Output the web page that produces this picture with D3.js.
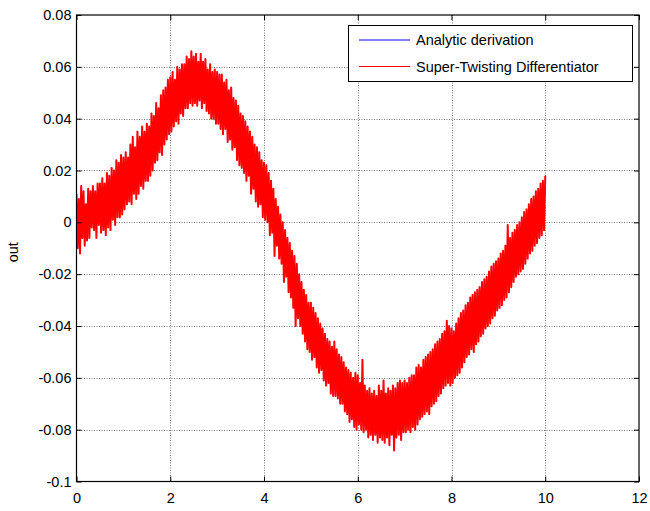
<!DOCTYPE html>
<html><head><meta charset="utf-8">
<script src="https://cdn.jsdelivr.net/npm/d3@7"></script>
<style>
html,body{margin:0;padding:0;background:#fff;}
svg{display:block;font-family:"Liberation Sans",Arial,sans-serif;}
</style></head>
<body>
<svg id="chart" width="650" height="511"></svg>
<script>
// ---- data ----
const xTicks = [0, 2, 4, 6, 8, 10, 12];
const yTicks = [-0.1, -0.08, -0.06, -0.04, -0.02, 0, 0.02, 0.04, 0.06, 0.08];
const yTickLabels = ["-0.1", "-0.08", "-0.06", "-0.04", "-0.02", "0", "0.02", "0.04", "0.06", "0.08"];
const seriesNames = ["Analytic derivation", "Super-Twisting Differentiator"];

// Analytic derivation (read at t = 0, 0.5, ..., 10)
const analyticT = [0,0.5,1,1.5,2,2.5,3,3.5,4,4.5,5,5.5,6,6.5,7,7.5,8,8.5,9,9.5,10];
const analyticV = [0.000,0.005,0.016,0.027,0.046,0.055,0.048,0.031,0.012,-0.017,-0.042,-0.057,-0.069,-0.074,-0.072,-0.063,-0.052,-0.038,-0.025,-0.009,0.006];

// Super-Twisting Differentiator output, sampled every 0.025 s from t = 0 to 10
const stdStep = 0.025;
const stdV = [
 0.011,-0.010,0.009,-0.012,0.014,-0.006,0.012,-0.009,0.007,-0.007,0.013,-0.006,0.012,-0.002,0.014,-0.003,0.012,-0.006,0.015,-0.001,
 0.015,-0.004,0.017,-0.003,0.015,-0.005,0.019,-0.002,0.018,-0.003,0.021,0.001,0.020,-0.001,0.024,0.002,0.023,0.002,0.026,0.003,
 0.025,0.005,0.027,0.007,0.025,0.008,0.030,0.007,0.033,0.011,0.029,0.009,0.035,0.011,0.033,0.014,0.037,0.013,0.035,0.016,
 0.038,0.016,0.037,0.018,0.042,0.020,0.041,0.023,0.046,0.024,0.044,0.027,0.049,0.026,0.051,0.030,0.052,0.032,0.055,0.034,
 0.056,0.035,0.058,0.037,0.055,0.039,0.060,0.038,0.059,0.042,0.061,0.041,0.061,0.044,0.064,0.044,0.063,0.046,0.066,0.045,
 0.064,0.046,0.065,0.045,0.062,0.047,0.065,0.044,0.062,0.046,0.063,0.043,0.059,0.042,0.061,0.040,0.058,0.040,0.059,0.038,
 0.058,0.038,0.057,0.036,0.057,0.034,0.054,0.036,0.055,0.031,0.051,0.032,0.052,0.028,0.048,0.029,0.047,0.024,0.045,0.022,
 0.042,0.021,0.041,0.019,0.039,0.016,0.037,0.018,0.035,0.011,0.033,0.013,0.030,0.008,0.029,0.006,0.027,0.007,0.024,0.002,
 0.023,0.001,0.022,0.000,0.019,-0.005,0.016,-0.004,0.013,-0.013,0.009,-0.009,0.006,-0.014,0.003,-0.016,0.000,-0.023,-0.003,-0.021,
 -0.006,-0.027,-0.008,-0.029,-0.011,-0.033,-0.013,-0.040,-0.016,-0.037,-0.020,-0.040,-0.023,-0.043,-0.026,-0.046,-0.028,-0.049,-0.031,-0.050,
 -0.031,-0.053,-0.033,-0.052,-0.035,-0.056,-0.037,-0.058,-0.039,-0.057,-0.041,-0.061,-0.043,-0.063,-0.045,-0.062,-0.046,-0.066,-0.048,-0.067,
 -0.046,-0.067,-0.049,-0.068,-0.051,-0.070,-0.052,-0.070,-0.054,-0.073,-0.056,-0.074,-0.057,-0.077,-0.058,-0.076,-0.060,-0.079,-0.058,-0.080,
 -0.059,-0.078,-0.062,-0.080,-0.053,-0.081,-0.063,-0.080,-0.065,-0.083,-0.064,-0.082,-0.066,-0.084,-0.065,-0.082,-0.067,-0.085,-0.063,-0.083,
 -0.065,-0.084,-0.061,-0.085,-0.066,-0.083,-0.064,-0.086,-0.065,-0.082,-0.063,-0.088,-0.064,-0.083,-0.062,-0.082,-0.061,-0.084,-0.062,-0.081,
 -0.061,-0.081,-0.062,-0.080,-0.060,-0.081,-0.059,-0.079,-0.059,-0.080,-0.056,-0.078,-0.055,-0.076,-0.056,-0.075,-0.053,-0.074,-0.052,-0.073,
 -0.051,-0.074,-0.050,-0.071,-0.049,-0.070,-0.047,-0.069,-0.046,-0.067,-0.045,-0.066,-0.043,-0.064,-0.042,-0.063,-0.038,-0.062,-0.040,-0.063,
 -0.041,-0.062,-0.042,-0.060,-0.039,-0.059,-0.037,-0.058,-0.035,-0.056,-0.034,-0.054,-0.032,-0.052,-0.031,-0.051,-0.029,-0.049,-0.028,-0.050,
 -0.027,-0.047,-0.026,-0.046,-0.025,-0.044,-0.023,-0.043,-0.022,-0.041,-0.021,-0.040,-0.019,-0.039,-0.017,-0.037,-0.016,-0.036,-0.015,-0.034,
 -0.014,-0.033,-0.012,-0.032,-0.011,-0.030,-0.009,-0.029,-0.001,-0.027,-0.006,-0.025,-0.004,-0.023,-0.003,-0.021,-0.001,-0.020,0.000,-0.019,
 0.002,-0.018,0.004,-0.016,0.005,-0.014,0.007,-0.012,0.009,-0.011,0.010,-0.009,0.012,-0.008,0.013,-0.006,0.015,-0.005,0.016,-0.003,
 0.018
];

// ---- layout ----
const svg = d3.select("#chart");
const m = {left: 76.5, top: 15, right: 639, bottom: 481.5};
const x = d3.scaleLinear().domain([0, 12]).range([m.left, m.right]);
const y = d3.scaleLinear().domain([-0.1, 0.08]).range([m.bottom, m.top]);
const W = m.right - m.left, H = m.bottom - m.top;

svg.append("rect").attr("width", 650).attr("height", 511).attr("fill", "#fff");
svg.append("rect").attr("x", m.left).attr("y", m.top).attr("width", W).attr("height", H).attr("fill", "#fff");

// grid
const grid = svg.append("g").attr("stroke", "#7a7a7a").attr("stroke-width", 1).attr("stroke-dasharray", "1,1.5");
grid.selectAll("line.gx").data(xTicks.slice(1, -1)).join("line")
  .attr("x1", d => Math.round(x(d)) + 0.5).attr("x2", d => Math.round(x(d)) + 0.5)
  .attr("y1", m.top).attr("y2", m.bottom);
grid.selectAll("line.gy").data(yTicks.slice(1, -1)).join("line")
  .attr("y1", d => Math.round(y(d)) + 0.5).attr("y2", d => Math.round(y(d)) + 0.5)
  .attr("x1", m.left).attr("x2", m.right);

// lines
const clip = svg.append("clipPath").attr("id", "clip").append("rect")
  .attr("x", m.left).attr("y", m.top).attr("width", W).attr("height", H);
const plot = svg.append("g").attr("clip-path", "url(#clip)");

const analytic = analyticT.map((t, i) => [t, analyticV[i]]);
const std = stdV.map((v, i) => [i * stdStep, v]);
const line = d3.line().x(d => x(d[0])).y(d => y(d[1]));

plot.append("path").datum(analytic).attr("d", line)
  .attr("fill", "none").attr("stroke", "#0000ff").attr("stroke-width", 1);
plot.append("path").datum(std).attr("d", line)
  .attr("fill", "none").attr("stroke", "#ff0000").attr("stroke-width", 2)
  .attr("stroke-linejoin", "round");

// axes (ticks inward on all sides)
const tickLen = 5;
const axB = d3.axisBottom(x).tickValues(xTicks).tickSize(-tickLen).tickPadding(11).tickFormat(d3.format("d"));
const axT = d3.axisTop(x).tickValues(xTicks).tickSize(-tickLen).tickFormat("");
const axL = d3.axisLeft(y).tickValues(yTicks).tickSize(-tickLen).tickPadding(5).tickFormat((d, i) => yTickLabels[i]);
const axR = d3.axisRight(y).tickValues(yTicks).tickSize(-tickLen).tickFormat("");

function style(g) {
  g.select(".domain").remove();
  g.selectAll(".tick line").attr("stroke", "#000");
  g.selectAll(".tick text").attr("fill", "#000").attr("font-size", 14.5)
    .attr("font-family", "'Liberation Sans', Arial, sans-serif");
}
svg.append("g").attr("transform", `translate(0,${m.bottom})`).call(axB).call(style);
svg.append("g").attr("transform", `translate(0,${m.top})`).call(axT).call(style);
svg.append("g").attr("transform", `translate(${m.left},0)`).call(axL).call(style);
svg.append("g").attr("transform", `translate(${m.right},0)`).call(axR).call(style);

// box
svg.append("rect").attr("x", m.left).attr("y", m.top).attr("width", W).attr("height", H)
  .attr("fill", "none").attr("stroke", "#000").attr("stroke-width", 1.2);

// y label
svg.append("text").attr("transform", `translate(18,${(m.top + m.bottom) / 2 + 4}) rotate(-90)`)
  .attr("text-anchor", "middle").attr("font-size", 14.5).attr("fill", "#000").text("out");

// legend
const lg = svg.append("g");
lg.append("rect").attr("x", 348.5).attr("y", 25.5).attr("width", 284).attr("height", 56)
  .attr("fill", "#fff").attr("stroke", "#000").attr("stroke-width", 1);
const lgColors = ["#0000ff", "#ff0000"];
seriesNames.forEach((name, i) => {
  const yy = 40 + i * 26.5;
  lg.append("line").attr("x1", 359).attr("x2", 410).attr("y1", yy).attr("y2", yy)
    .attr("stroke", lgColors[i]).attr("stroke-width", 1);
  lg.append("text").attr("x", 416).attr("y", yy + 5).attr("font-size", 14.5).attr("fill", "#000").text(name);
});
</script>
</body></html>
